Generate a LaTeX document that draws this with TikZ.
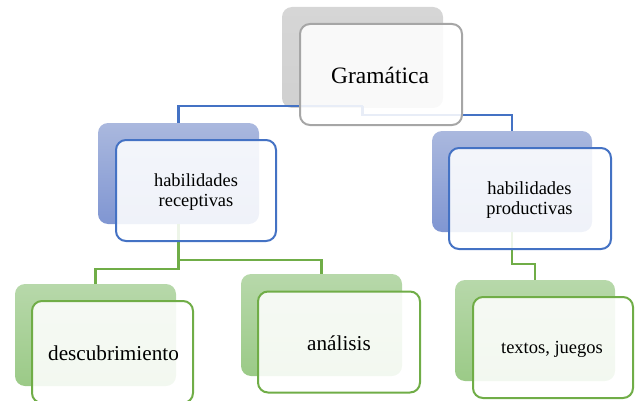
\documentclass[tikz,border=0pt]{standalone}
\usepackage{fontspec}
\setmainfont{Liberation Serif}
\definecolor{grayback}{HTML}{D0D0D0}
\definecolor{graybacktop}{HTML}{D6D6D6}
\definecolor{grayline}{HTML}{A6A6A6}
\definecolor{bluetop}{HTML}{AAB8DE}
\definecolor{bluebot}{HTML}{8096D2}
\definecolor{blueline}{HTML}{4472C4}
\definecolor{greentop}{HTML}{B7D8AA}
\definecolor{greenbot}{HTML}{9BCA87}
\definecolor{greenline}{HTML}{70AD47}
\begin{document}
\begin{tikzpicture}[x=1pt,y=-1pt,
  backbox/.style={rectangle, rounded corners=10pt, inner sep=0pt, outer sep=0pt},
  graybk/.style={backbox, top color=graybacktop, bottom color=grayback},
  bluebk/.style={backbox, top color=bluetop, bottom color=bluebot},
  greenbk/.style={backbox, top color=greentop, bottom color=greenbot},
  frontbox/.style={rectangle, rounded corners=10pt, inner sep=0pt, outer sep=0pt,
    fill=white, fill opacity=0.88, line width=2pt},
  grayfr/.style={frontbox, draw=grayline},
  bluefr/.style={frontbox, draw=blueline},
  greenfr/.style={frontbox, draw=greenline},
  bconn/.style={draw=blueline, line width=2.2pt},
  gconn/.style={draw=greenline, line width=2.2pt},
  lbl/.style={inner sep=0pt, align=center, text=black}
]
\useasboundingbox (0,0) rectangle (639,401);
% back boxes
\node[graybk, minimum width=161pt, minimum height=101pt] (gback) at (362.5,57.5) {};
\node[bluebk, minimum width=161pt, minimum height=101pt] (rback) at (178.5,173.5) {};
\node[bluebk, minimum width=160pt, minimum height=101pt] (pback) at (512,181.5) {};
\node[greenbk, minimum width=161pt, minimum height=102pt] (dback) at (95.5,335) {};
\node[greenbk, minimum width=161pt, minimum height=102pt] (aback) at (321.5,325) {};
\node[greenbk, minimum width=160pt, minimum height=101pt] (tback) at (535,330.5) {};
% connectors
\draw[bconn] (gback.south) ++(0,-2) -| (rback.north);
\draw[bconn] (gback.south) ++(0,-2) -- ++(0,9) -| (pback.north);
\draw[gconn] (rback.south) -- ++(0,45) -| (dback.north);
\draw[gconn] (rback.south) -- ++(0,36) -| (aback.north);
\draw[gconn] (pback.south) -- ++(0,32) -| (tback.north);
% front boxes
\node[grayfr, minimum width=162pt, minimum height=101pt] (gfront) at (381,74.5) {};
\node[bluefr, minimum width=160pt, minimum height=101pt] (rfront) at (196,190.5) {};
\node[bluefr, minimum width=162pt, minimum height=101pt] (pfront) at (530,198.5) {};
\node[greenfr, minimum width=161pt, minimum height=102pt] (dfront) at (112.5,352) {};
\node[greenfr, minimum width=162pt, minimum height=101pt] (afront) at (339,342) {};
\node[greenfr, minimum width=160pt, minimum height=101pt] (tfront) at (553,347.5) {};
% labels
\node[lbl, font=\fontsize{23.5}{26}\selectfont] (gt) at (380,75) {Gramática};
\node[lbl, font=\fontsize{18.4}{19.5}\selectfont] (rt) at (196,192) {habilidades\\receptivas};
\node[lbl, font=\fontsize{18.5}{19.5}\selectfont] (pt) at (529.5,200) {habilidades\\productivas};
\node[lbl, font=\fontsize{21.2}{24}\selectfont] (dt) at (113.5,353) {descubrimiento};
\node[lbl, font=\fontsize{21.2}{24}\selectfont] (at) at (339,343) {análisis};
\node[lbl, font=\fontsize{18.5}{21}\selectfont] (tt) at (552,349) {textos, juegos};
\end{tikzpicture}
\end{document}
